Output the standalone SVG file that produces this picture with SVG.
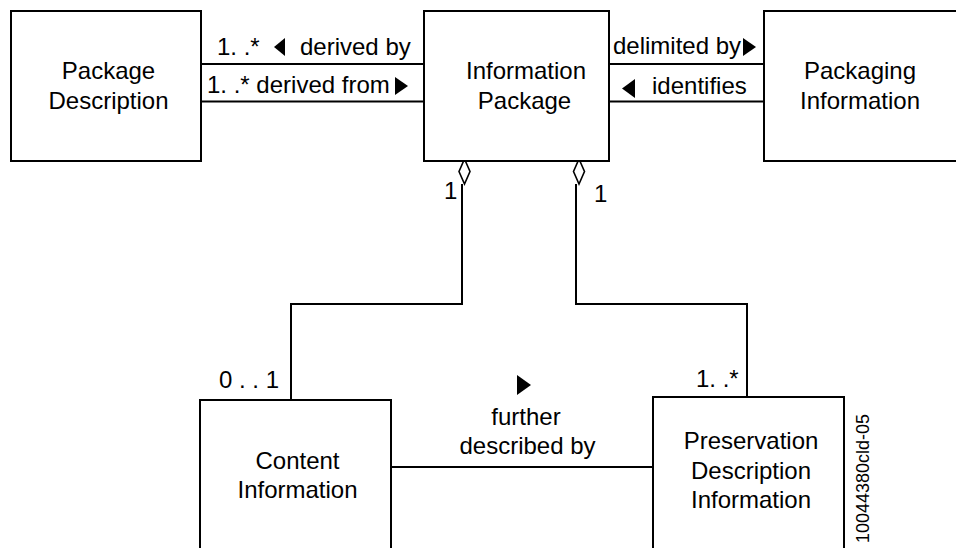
<svg xmlns="http://www.w3.org/2000/svg" width="956" height="548" viewBox="0 0 956 548">
<style>
.box{fill:#fff;stroke:#000;stroke-width:2}
.ln{fill:none;stroke:#000;stroke-width:2}
.t{font-family:"Liberation Sans",Arial,sans-serif;font-size:24px;fill:#000}
.c{text-anchor:middle}
.tri{fill:#000}
.dia{fill:#fff;stroke:#000;stroke-width:1.6}
</style>
<rect width="956" height="548" fill="#fff"/>
<g id="connectors">
<line class="ln" x1="201" y1="64" x2="424" y2="64"/>
<line class="ln" x1="201" y1="101.5" x2="424" y2="101.5"/>
<line class="ln" x1="609" y1="64" x2="764" y2="64"/>
<line class="ln" x1="609" y1="101.5" x2="764" y2="101.5"/>
<polyline class="ln" points="462,184 462,304 291,304 291,400"/>
<polyline class="ln" points="576,184 576,304 747,304 747,397"/>
<line class="ln" x1="391" y1="467" x2="653" y2="467"/>
<polygon class="dia" points="464.5,159 470,171.5 464.5,184 459,171.5"/>
<polygon class="dia" points="579,159 584.5,171.5 579,184 573.5,171.5"/>
<polygon class="tri" points="274,47 285,38 285,56"/>
<polygon class="tri" points="408,86 395,77 395,95"/>
<polygon class="tri" points="756,47 743,38 743,56"/>
<polygon class="tri" points="622,88.5 635,79 635,98"/>
<polygon class="tri" points="531,385 517,375 517,395"/>
<text class="t" x="217" y="55">1. .*</text>
<text class="t" x="300" y="55">derived by</text>
<text class="t" x="207" y="93">1. .* derived from</text>
<text class="t" x="613" y="54">delimited by</text>
<text class="t" x="652" y="94">identifies</text>
<text class="t" x="444" y="199">1</text>
<text class="t" x="594" y="202">1</text>
<text class="t" x="219" y="388">0 . . 1</text>
<text class="t" x="696" y="387">1. .*</text>
<text class="t c" x="526" y="425">further</text>
<text class="t c" x="527.5" y="454">described by</text>
</g>
<g id="package-description">
<rect class="box" x="11" y="11" width="190" height="150"/>
<text class="t c" x="108.5" y="79">Package</text>
<text class="t c" x="108.5" y="108.5">Description</text>
</g>
<g id="information-package">
<rect class="box" x="424" y="11" width="185" height="150"/>
<text class="t c" x="526" y="79">Information</text>
<text class="t c" x="524.5" y="108.5">Package</text>
</g>
<g id="packaging-information">
<rect class="box" x="764" y="11" width="196" height="150"/>
<text class="t c" x="860" y="79">Packaging</text>
<text class="t c" x="860" y="108.5">Information</text>
</g>
<g id="content-information">
<rect class="box" x="200" y="400" width="191" height="160"/>
<text class="t c" x="297.5" y="469">Content</text>
<text class="t c" x="297.5" y="498">Information</text>
</g>
<g id="preservation-description-information">
<rect class="box" x="653" y="397" width="191" height="163"/>
<text class="t c" x="751" y="449">Preservation</text>
<text class="t c" x="751" y="479">Description</text>
<text class="t c" x="751" y="508">Information</text>
</g>
<text class="t" x="869" y="543" transform="rotate(-90 869 543)" style="font-size:18px">10044380cld-05</text>
</svg>
